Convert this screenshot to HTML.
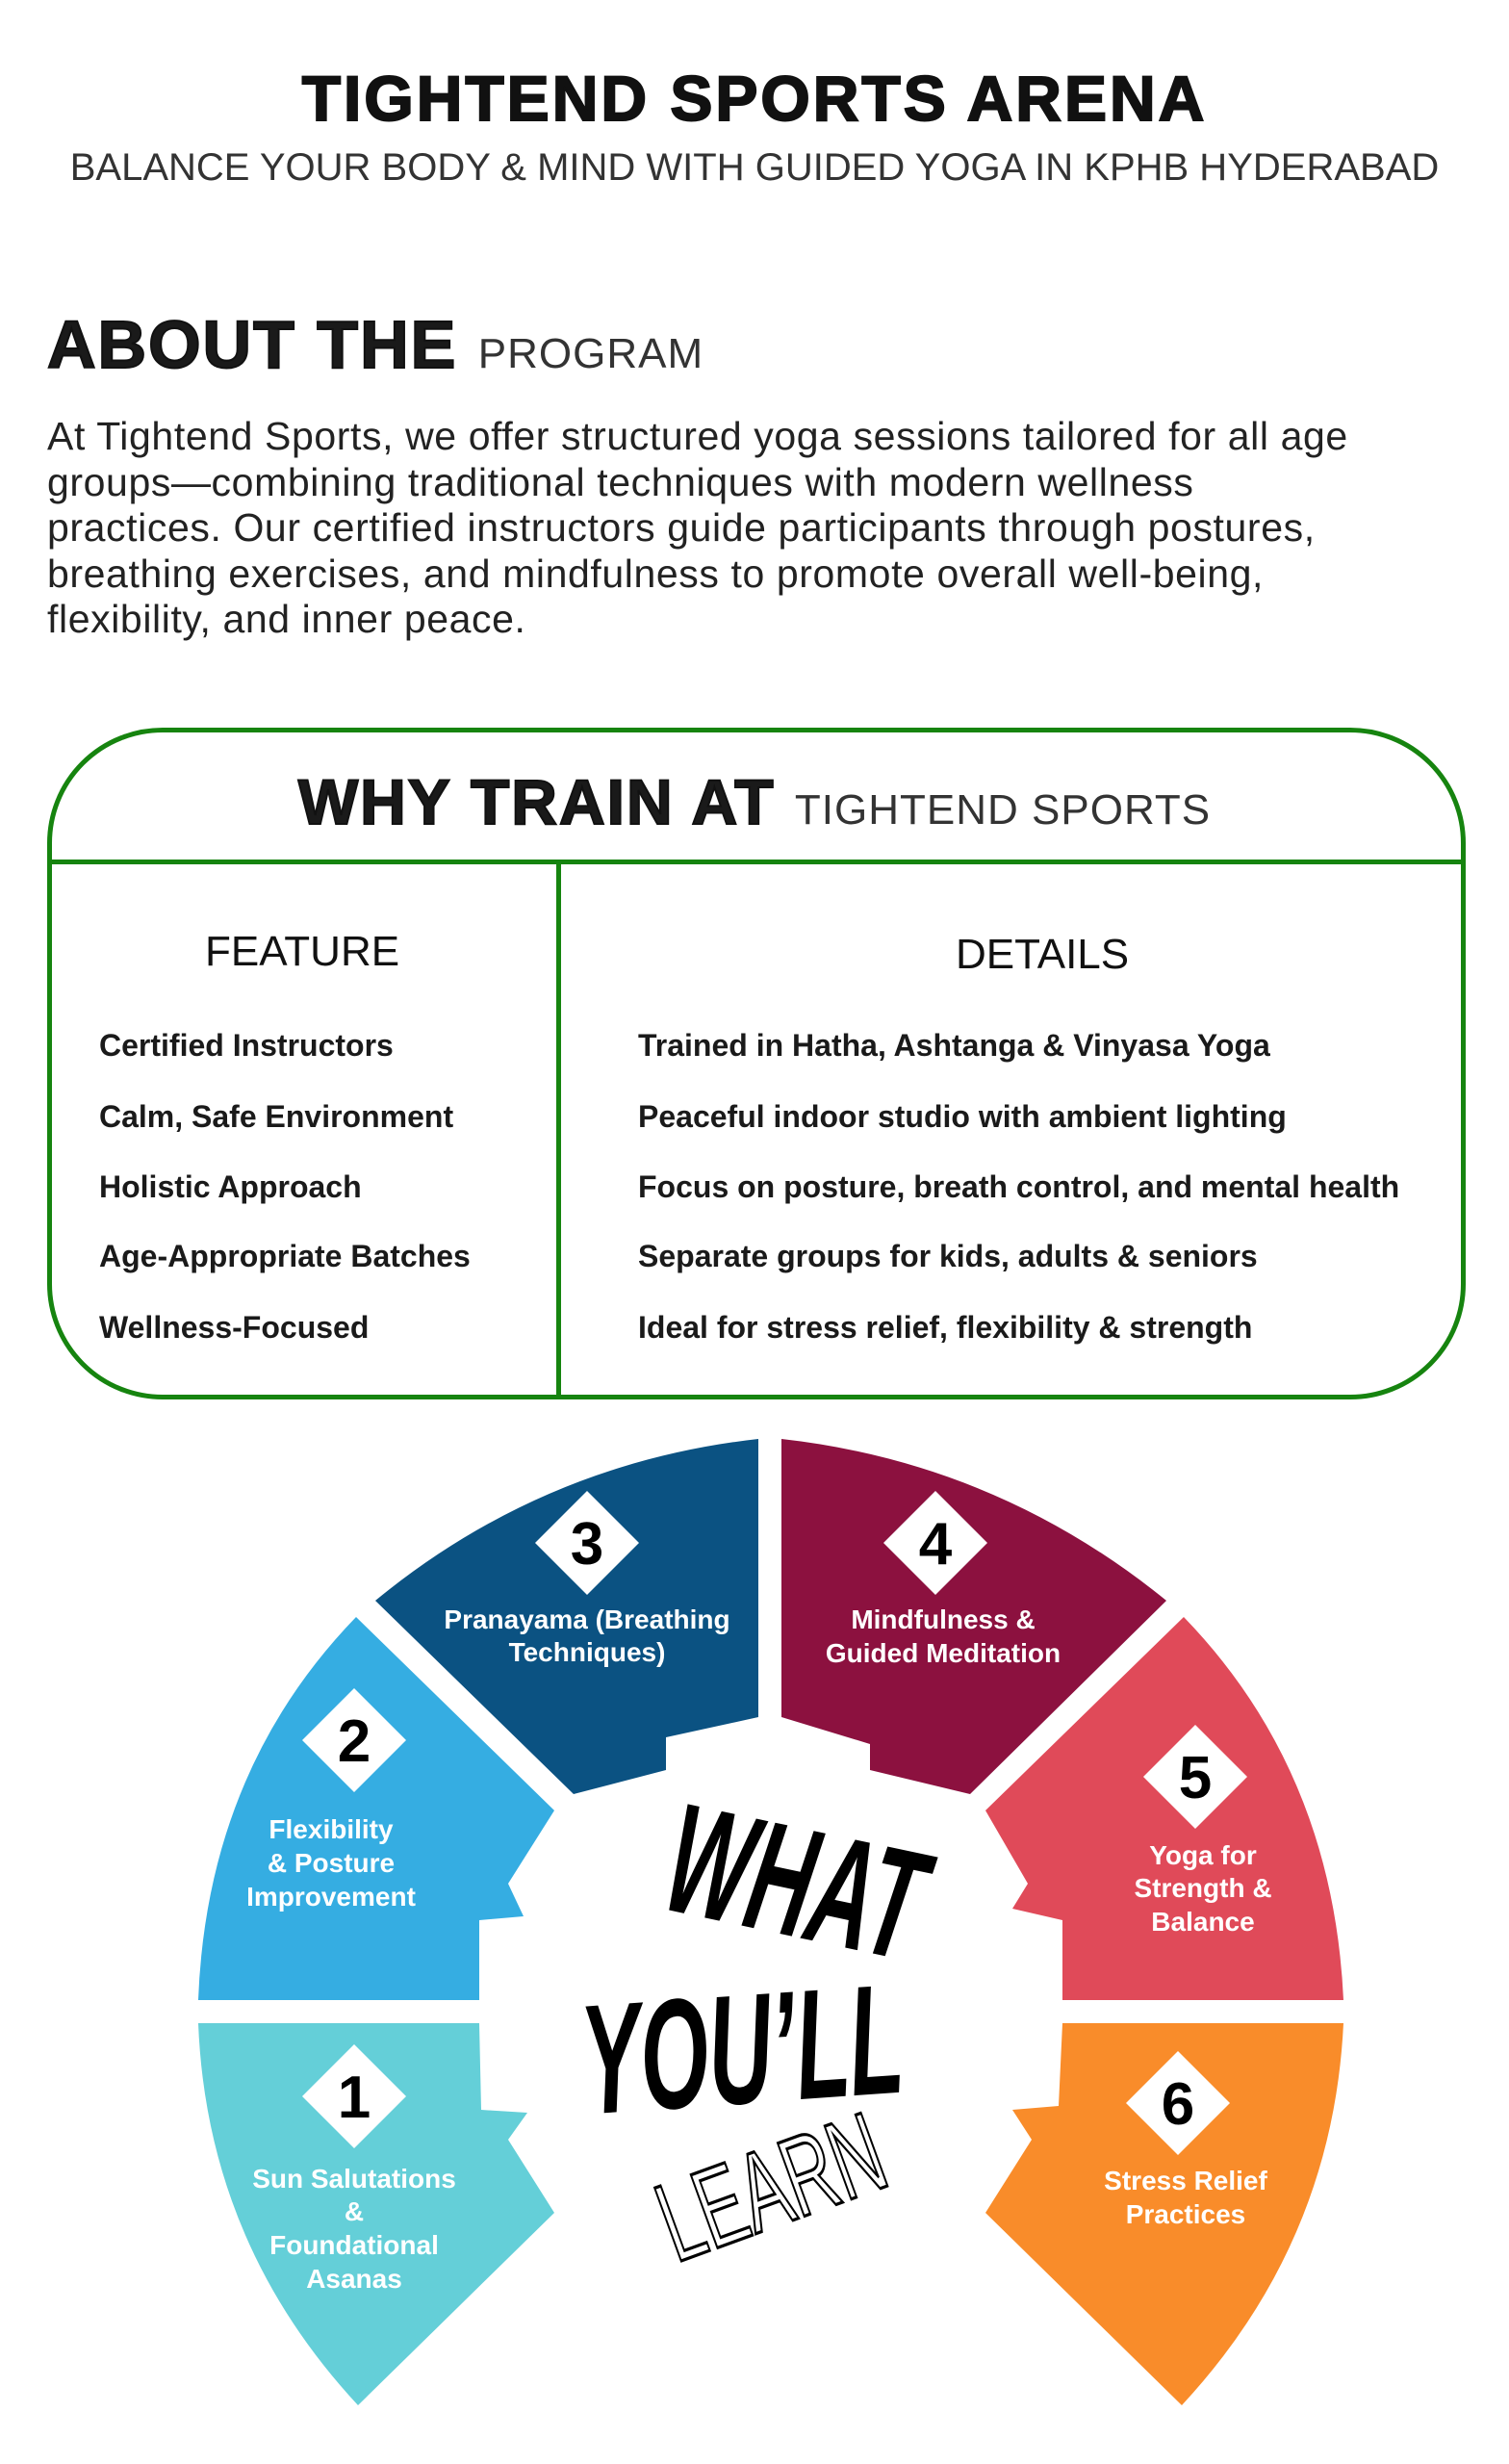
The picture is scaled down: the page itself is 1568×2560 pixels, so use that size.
<!DOCTYPE html>
<html><head><meta charset="utf-8"><style>
body{margin:0;width:1568px;height:2560px;background:#fff;position:relative;overflow:hidden;font-family:"Liberation Sans",Arial,sans-serif;color:#1a1a1a}
.a{position:absolute;white-space:nowrap}
.title{left:0;width:1568px;text-align:center;top:64px;font-size:66px;font-weight:900;letter-spacing:3px;color:#111;-webkit-text-stroke:2px #111}
.sub{left:0;width:1568px;text-align:center;top:152px;font-size:40px;letter-spacing:0;color:#333}
.about{left:49px;top:318px;font-size:70px;font-weight:900;letter-spacing:2px;-webkit-text-stroke:2px #111}
.about span{font-size:44px;font-weight:400;-webkit-text-stroke:0;color:#333;letter-spacing:1px}
.para{left:49px;top:430px;font-size:41px;letter-spacing:0.6px;line-height:47.5px;color:#222}
.box{position:absolute;left:49px;top:756px;width:1464px;height:688px;border:5px solid #16840f;border-radius:120px}
.hl{position:absolute;left:49px;top:893px;width:1474px;height:5px;background:#16840f}
.vl{position:absolute;left:578px;top:893px;width:5px;height:556px;background:#16840f}
.why{left:0;width:1568px;text-align:center;top:795px;font-size:66px;font-weight:900;letter-spacing:2px;-webkit-text-stroke:2px #111}
.why span{font-size:44px;font-weight:400;-webkit-text-stroke:0;color:#333;letter-spacing:1px}
.h2{font-size:44px;color:#111}
.r{font-size:32px;font-weight:bold;color:#1a1a1a}
</style></head><body>
<div class="a title">TIGHTEND SPORTS ARENA</div>
<div class="a sub">BALANCE YOUR BODY &amp; MIND WITH GUIDED YOGA IN KPHB HYDERABAD</div>
<div class="a about">ABOUT THE <span>PROGRAM</span></div>
<div class="a para">At Tightend Sports, we offer structured yoga sessions tailored for all age<br>groups—combining traditional techniques with modern wellness<br>practices. Our certified instructors guide participants through postures,<br>breathing exercises, and mindfulness to promote overall well-being,<br>flexibility, and inner peace.</div>
<div class="box"></div><div class="hl"></div><div class="vl"></div>
<div class="a why">WHY TRAIN AT <span>TIGHTEND SPORTS</span></div>
<div class="a h2" style="left:213px;top:964px">FEATURE</div>
<div class="a h2" style="left:993px;top:967px">DETAILS</div>
<div class="a r" style="left:103px;top:1068px">Certified Instructors</div>
<div class="a r" style="left:103px;top:1142px">Calm, Safe Environment</div>
<div class="a r" style="left:103px;top:1215px">Holistic Approach</div>
<div class="a r" style="left:103px;top:1287px">Age-Appropriate Batches</div>
<div class="a r" style="left:103px;top:1361px">Wellness-Focused</div>
<div class="a r" style="left:663px;top:1068px">Trained in Hatha, Ashtanga &amp; Vinyasa Yoga</div>
<div class="a r" style="left:663px;top:1142px">Peaceful indoor studio with ambient lighting</div>
<div class="a r" style="left:663px;top:1215px">Focus on posture, breath control, and mental health</div>
<div class="a r" style="left:663px;top:1287px">Separate groups for kids, adults &amp; seniors</div>
<div class="a r" style="left:663px;top:1361px">Ideal for stress relief, flexibility &amp; strength</div>

<svg class="a" style="left:0;top:0" width="1568" height="2560" viewBox="0 0 1568 2560">
<g font-family="Liberation Sans, Arial, sans-serif" font-weight="bold">
<path d="M390,1663 Q564,1520 788,1495 L788,1784 L692,1805 L692,1839 L596,1864 Z" fill="#0b5282"/>
<path d="M812,1495 Q1036,1520 1212,1663 L1008,1864 L904,1839 L904,1812 L812,1784 Z" fill="#8c113f"/>
<path d="M370,1680 L576,1881 L528,1957 L544,1991 L498,1995 L498,2078 L206,2078 Q215,1840 370,1680 Z" fill="#35ade2"/>
<path d="M1230,1680 L1024,1881 L1068,1957 L1052,1983 L1104,1995 L1104,2078 L1396,2078 Q1385,1840 1230,1680 Z" fill="#e04a59"/>
<path d="M206,2102 L498,2102 L500,2192 L548,2195 L528,2223 L576,2299 L372,2499 Q215,2330 206,2102 Z" fill="#64cfd8"/>
<path d="M1396,2102 L1104,2102 L1100,2188 L1052,2192 L1072,2223 L1024,2299 L1228,2499 Q1385,2330 1396,2102 Z" fill="#f98c2a"/>
<g fill="#fff">
<path d="M610,1549 L664,1603 L610,1657 L556,1603 Z"/><path d="M972,1549 L1026,1603 L972,1657 L918,1603 Z"/>
<path d="M368,1754 L422,1808 L368,1862 L314,1808 Z"/><path d="M1242,1792 L1296,1846 L1242,1900 L1188,1846 Z"/>
<path d="M368,2124 L422,2178 L368,2232 L314,2178 Z"/><path d="M1224,2131 L1278,2185 L1224,2239 L1170,2185 Z"/>
</g>
<g fill="#000" font-size="62" font-weight="900" text-anchor="middle">
<text x="610" y="1625">3</text><text x="972" y="1625">4</text><text x="368" y="1830">2</text>
<text x="1242" y="1868">5</text><text x="368" y="2200">1</text><text x="1224" y="2207">6</text>
</g>
<g fill="#fff" font-size="28" text-anchor="middle">
<text x="610" y="1692">Pranayama (Breathing</text><text x="610" y="1726">Techniques)</text>
<text x="980" y="1692">Mindfulness &amp;</text><text x="980" y="1727">Guided Meditation</text>
<text x="344" y="1910">Flexibility</text><text x="344" y="1945">&amp; Posture</text><text x="344" y="1980">Improvement</text>
<text x="1250" y="1937">Yoga for</text><text x="1250" y="1971">Strength &amp;</text><text x="1250" y="2006">Balance</text>
<text x="368" y="2273">Sun Salutations</text><text x="368" y="2307">&amp;</text><text x="368" y="2342">Foundational</text><text x="368" y="2377">Asanas</text>
<text x="1232" y="2275">Stress Relief</text><text x="1232" y="2310">Practices</text>
</g>
<g font-weight="900" font-style="italic" fill="#000" text-anchor="middle">
<text transform="translate(815,2010) rotate(12) scale(0.7,1.25)" font-size="130">WHAT</text>
<text transform="translate(775,2185) rotate(-4) scale(0.7,1.25)" font-size="130">YOU’LL</text>
<text transform="translate(815,2310) rotate(-20) scale(0.8,1.3)" font-size="90" font-weight="400" font-style="normal" fill="#fff" stroke="#000" stroke-width="2.5">LEARN</text>
</g>
</g>
</svg>
</body></html>
